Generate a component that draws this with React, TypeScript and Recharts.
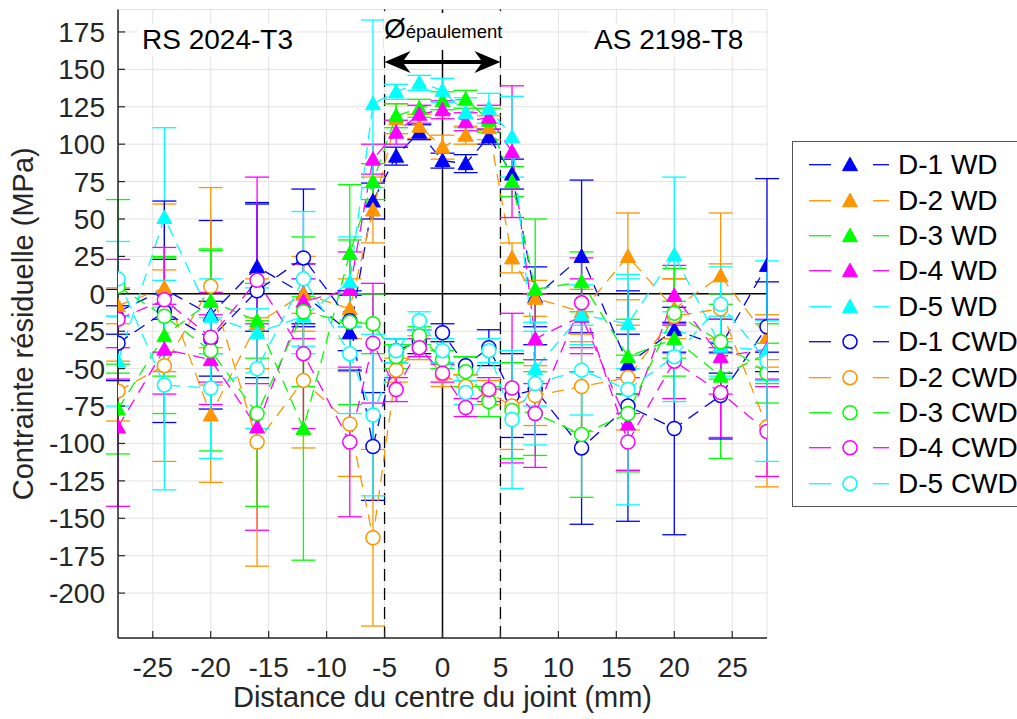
import React from "react";
import {
  LineChart,
  Line,
  XAxis,
  YAxis,
  CartesianGrid,
  ErrorBar,
  ReferenceLine,
  Legend,
} from "recharts";

const FONT = "'Liberation Sans', Arial, Helvetica, sans-serif";

// distance from the weld centre (mm)
const distances = [-28, -24, -20, -16, -12, -8, -6, -4, -2, 0, 2, 4, 6, 8, 12, 16, 20, 24, 28];

// residual stress (MPa), WD direction
const d1WD = [-12, 3, -14, 18, 0, -26, 62, 92, 108, 89, 87, 105, 80, -2, 25, -47, -24, -35, 19];
const d2WD = [-8, 4, -81, -20, 0, -10, 56, 117, 112, 98, 106, 111, 24, -3, -12, 25, -10, 12, -29];
const d3WD = [-77, -28, -5, -18, -90, 27, 75, 119, 124, 129, 130, 116, 75, 3, 8, -42, -30, -55, -40];
const d4WD = [-89, -37, -44, -89, -5, 3, 90, 108, 120, 123, 115, 118, 95, -30, -15, -87, -1, -42, -37];
const d5WD = [-45, 51, -15, -26, -15, 8, 127, 135, 141, 136, 121, 124, 105, -50, -14, -20, 26, -35, -38];

// residual stress (MPa), CWD direction
const d1CWD = [-33, -12, -30, 2, 24, -18, -102, -38, -32, -26, -48, -36, -68, -64, -103, -75, -90, -68, -22];
const d2CWD = [-65, -48, 5, -99, -58, -87, -163, -51, -36, -54, -62, -66, -75, -68, -62, -56, -15, -10, -89];
const d3CWD = [5, -15, -38, -80, -12, -19, -20, -42, -28, -44, -52, -72, -78, -80, -94, -80, -13, -32, -53];
const d4CWD = [-17, -4, -29, 9, -40, -99, -33, -64, -36, -53, -76, -64, -63, -80, -6, -99, -45, -66, -92];
const d5CWD = [10, -61, -63, -50, 10, -40, -81, -38, -18, -38, -66, -38, -84, -60, -51, -64, -42, -7, -45];

// error bar half-lengths (MPa)
const d1WDErr = [15, 20, 63, 43, 20, 25, 12, 6, 5, 5, 6, 5, 10, 20, 51, 20, 15, 18, 58];
const d2WDErr = [12, 56, 45, 30, 25, 20, 22, 10, 8, 8, 6, 8, 10, 12, 15, 29, 20, 42, 15];
const d3WDErr = [30, 52, 35, 25, 88, 46, 12, 8, 6, 6, 6, 8, 10, 47, 20, 25, 25, 55, 20];
const d4WDErr = [53, 30, 30, 69, 25, 25, 10, 8, 6, 6, 6, 8, 44, 30, 25, 31, 20, 25, 20];
const d5WDErr = [30, 60, 25, 30, 25, 30, 56, 5, 5, 8, 10, 10, 27, 25, 20, 30, 52, 20, 20];
const d1CWDErr = [25, 74, 25, 58, 46, 20, 36, 8, 8, 6, 6, 12, 28, 30, 51, 77, 71, 29, 30];
const d2CWDErr = [20, 64, 66, 83, 45, 35, 59, 8, 8, 8, 8, 8, 29, 20, 30, 35, 25, 30, 40];
const d3CWDErr = [58, 40, 67, 62, 50, 55, 20, 8, 6, 6, 10, 10, 32, 28, 42, 39, 30, 25, 20];
const d4CWDErr = [40, 35, 30, 69, 50, 50, 40, 8, 6, 6, 6, 8, 50, 36, 30, 19, 25, 30, 30];
const d5CWDErr = [25, 70, 47, 40, 45, 40, 54, 8, 6, 8, 8, 8, 46, 41, 30, 77, 30, 25, 67];

const xTicks = [-25, -20, -15, -10, -5, 0, 5, 10, 15, 20, 25];
const yTicks = [-200, -175, -150, -125, -100, -75, -50, -25, 0, 25, 50, 75, 100, 125, 150, 175];

type Kind = "triangle" | "circle";

const series = [
  { key: "d1wd", name: "D-1 WD", color: "#0000ff", kind: "triangle" as Kind, values: d1WD, errors: d1WDErr },
  { key: "d2wd", name: "D-2 WD", color: "#ff9500", kind: "triangle" as Kind, values: d2WD, errors: d2WDErr },
  { key: "d3wd", name: "D-3 WD", color: "#00ff00", kind: "triangle" as Kind, values: d3WD, errors: d3WDErr },
  { key: "d4wd", name: "D-4 WD", color: "#ff00ff", kind: "triangle" as Kind, values: d4WD, errors: d4WDErr },
  { key: "d5wd", name: "D-5 WD", color: "#00ffff", kind: "triangle" as Kind, values: d5WD, errors: d5WDErr },
  { key: "d1cwd", name: "D-1 CWD", color: "#0000ff", kind: "circle" as Kind, values: d1CWD, errors: d1CWDErr },
  { key: "d2cwd", name: "D-2 CWD", color: "#ff9500", kind: "circle" as Kind, values: d2CWD, errors: d2CWDErr },
  { key: "d3cwd", name: "D-3 CWD", color: "#00ff00", kind: "circle" as Kind, values: d3CWD, errors: d3CWDErr },
  { key: "d4cwd", name: "D-4 CWD", color: "#ff00ff", kind: "circle" as Kind, values: d4CWD, errors: d4CWDErr },
  { key: "d5cwd", name: "D-5 CWD", color: "#00ffff", kind: "circle" as Kind, values: d5CWD, errors: d5CWDErr },
];

const rows = distances.map((x, i) => {
  const row: Record<string, number> = { x };
  series.forEach((s) => {
    row[s.key] = s.values[i];
    row[s.key + "Err"] = s.errors[i];
  });
  return row;
});

function Marker({ cx, cy, color, kind }: { cx: number; cy: number; color: string; kind: Kind }) {
  if (cx == null || cy == null) return null;
  if (kind === "triangle") {
    return (
      <polygon
        points={`${cx},${cy - 7.5} ${cx - 7.5},${cy + 6} ${cx + 7.5},${cy + 6}`}
        fill={color}
        stroke={color}
        strokeWidth={1}
      />
    );
  }
  return <circle cx={cx} cy={cy} r={7} fill="#fff" stroke={color} strokeWidth={1.5} />;
}

// double-headed arrow for the shoulder diameter
const ArrowShape = (p: any) => {
  const { x1, y1, x2 } = p;
  const y = y1;
  const len = 26;
  const half = 11;
  const notch = 8;
  return (
    <g>
      <line x1={x1 + 12} y1={y} x2={x2 - 12} y2={y} stroke="#000" strokeWidth={4} />
      <path d={`M${x1},${y} L${x1 + len},${y - half} L${x1 + len - notch},${y} L${x1 + len},${y + half} Z`} fill="#000" />
      <path d={`M${x2},${y} L${x2 - len},${y - half} L${x2 - len + notch},${y} L${x2 - len},${y + half} Z`} fill="#000" />
    </g>
  );
};

const YLabel = (props: any) => {
  const vb = props.viewBox || { x: 0, y: 9.5, width: 118, height: 628.5 };
  const x = vb.x + 33;
  const y = vb.y + vb.height / 2;
  return (
    <text x={x} y={y} transform={`rotate(-90 ${x} ${y})`} textAnchor="middle" fontSize={29} fontFamily={FONT} fill="#262626">
      Contrainte résiduelle (MPa)
    </text>
  );
};

const XLabel = (props: any) => {
  const vb = props.viewBox || { x: 118, y: 638, width: 649, height: 81 };
  return (
    <text x={vb.x + vb.width / 2} y={vb.y + 68.5} textAnchor="middle" fontSize={29} fontFamily={FONT} fill="#262626">
      Distance du centre du joint (mm)
    </text>
  );
};

const renderLegend = () => (
  <div
    style={{
      border: "1px solid #555",
      background: "#fff",
      boxSizing: "border-box",
      width: 240,
      height: 366,
      paddingTop: 5.6,
      fontFamily: FONT,
    }}
  >
    {series.map((s) => (
      <div key={s.key} style={{ position: "relative", height: 35.4 }}>
        <svg width={100} height={36} style={{ position: "absolute", left: 0, top: 0 }}>
          <line x1={16} x2={38} y1={17.7} y2={17.7} stroke={s.color} strokeWidth={1.3} />
          <Marker cx={57} cy={17.7} color={s.color} kind={s.kind} />
          <line x1={80} x2={96} y1={17.7} y2={17.7} stroke={s.color} strokeWidth={1.3} />
        </svg>
        <span
          style={{
            position: "absolute",
            left: 105,
            top: 0,
            lineHeight: "35.4px",
            fontSize: 28,
            color: "#000",
            whiteSpace: "nowrap",
          }}
        >
          {s.name}
        </span>
      </div>
    ))}
  </div>
);

const boxText: React.CSSProperties = {
  position: "absolute",
  background: "#fff",
  fontSize: 28,
  lineHeight: "32px",
  color: "#000",
  whiteSpace: "nowrap",
  fontFamily: FONT,
};

export default function App() {
  return (
    <div
      style={{
        position: "absolute",
        left: 0,
        top: 0,
        width: 1017,
        height: 719,
        overflow: "hidden",
        background: "#fff",
        fontFamily: FONT,
      }}
    >
      <LineChart width={1017} height={719} data={rows} margin={{ top: 9.5, right: 250, bottom: 0, left: 0 }}>
        <CartesianGrid stroke="#e2e2e2" strokeWidth={1} />
        <XAxis
          type="number"
          dataKey="x"
          domain={[-28, 28]}
          ticks={xTicks}
          interval={0}
          allowDataOverflow
          height={81}
          tickSize={-7}
          tickMargin={26}
          axisLine={{ stroke: "#262626", strokeWidth: 1.5 }}
          tickLine={{ stroke: "#262626", strokeWidth: 1.2 }}
          tick={{ fill: "#262626", fontSize: 28, fontFamily: FONT }}
          label={XLabel}
        />
        <YAxis
          type="number"
          domain={[-230, 190]}
          ticks={yTicks}
          interval={0}
          allowDataOverflow
          width={118}
          tickSize={-7}
          tickMargin={20}
          axisLine={{ stroke: "#262626", strokeWidth: 1.5 }}
          tickLine={{ stroke: "#262626", strokeWidth: 1.2 }}
          tick={{ fill: "#262626", fontSize: 28, fontFamily: FONT }}
          label={YLabel}
        />
        <ReferenceLine y={0} stroke="#000" strokeWidth={1.5} />
        <ReferenceLine x={0} stroke="#000" strokeWidth={1.5} />
        <ReferenceLine x={-5} stroke="#000" strokeWidth={1.3} strokeDasharray="12 7" />
        <ReferenceLine x={5} stroke="#000" strokeWidth={1.3} strokeDasharray="12 7" />
        <ReferenceLine
          segment={[
            { x: -5, y: 155 },
            { x: 5, y: 155 },
          ]}
          shape={ArrowShape}
          ifOverflow="visible"
        />
        {series.map((s) => (
          <Line
            key={s.key}
            dataKey={s.key}
            name={s.name}
            type="linear"
            stroke={s.color}
            strokeWidth={1.3}
            strokeDasharray="12 8"
            isAnimationActive={false}
            activeDot={false}
            dot={(p: any) => (
              <Marker key={`${s.key}-${p.index}`} cx={p.cx} cy={p.cy} color={s.color} kind={s.kind} />
            )}
          >
            <ErrorBar
              dataKey={s.key + "Err"}
              direction="y"
              width={12}
              stroke={s.color}
              strokeWidth={1.3}
              isAnimationActive={false}
            />
          </Line>
        ))}
        <Legend
          content={renderLegend}
          layout="vertical"
          align="center"
          verticalAlign="middle"
          wrapperStyle={{ left: 792, top: 140.7, width: 240, height: 366 }}
        />
      </LineChart>

      <div style={{ ...boxText, left: 138, top: 24, padding: "0 4px" }}>RS 2024-T3</div>
      <div style={{ ...boxText, left: 590, top: 24, padding: "0 4px" }}>AS 2198-T8</div>
      <div style={{ ...boxText, left: 384, top: 13, width: 118, height: 37 }}>
        <span>Ø</span>
        <span style={{ fontSize: 18.5 }}>épaulement</span>
      </div>
    </div>
  );
}
